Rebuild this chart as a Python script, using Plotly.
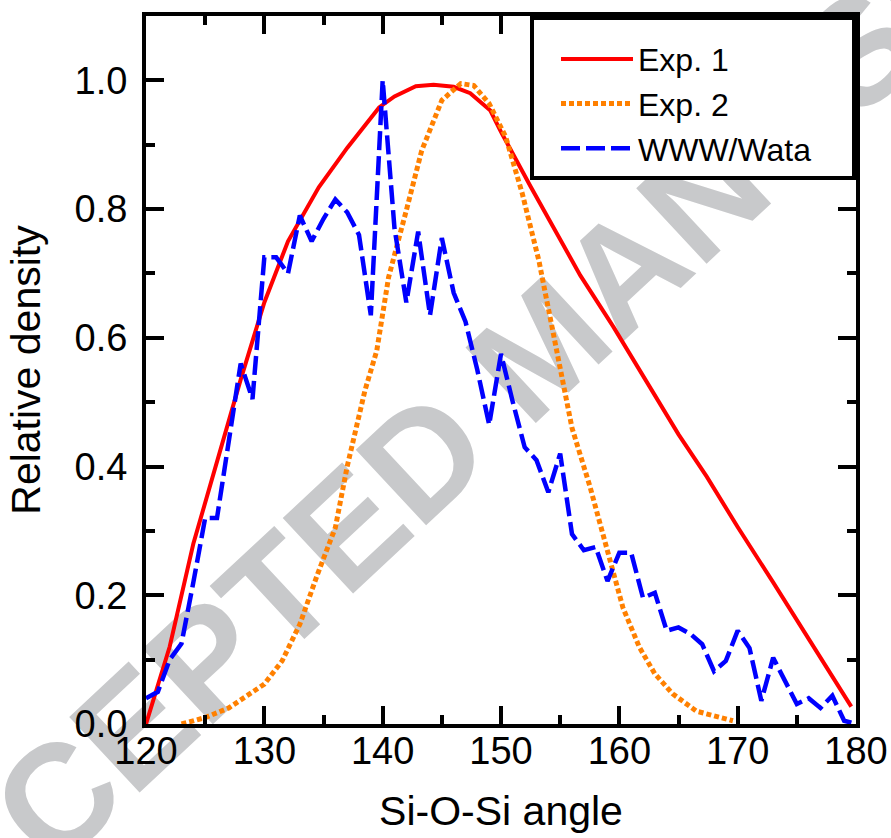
import plotly.graph_objects as go

# Exp. 1 (red, solid)
exp1_angle = [120, 122, 124, 126, 128, 130, 132, 134.6, 137, 139.7, 141, 142.8, 144.3, 146, 147.4, 149.1,
              150, 152.5, 156.7, 159.5, 162.3, 165, 167.4, 170, 173, 176, 179.6]
exp1_density = [0.0, 0.12, 0.28, 0.41, 0.535, 0.655, 0.75, 0.834, 0.895, 0.958, 0.975, 0.991, 0.993, 0.99, 0.98, 0.953,
                0.92, 0.835, 0.697, 0.617, 0.532, 0.45, 0.384, 0.306, 0.22, 0.132, 0.027]

# Exp. 2 (orange, dotted)
exp2_angle = [123, 125, 127, 130, 131.5, 133, 134.5, 136, 137, 138.5, 139.5, 140.5, 142, 143.3, 145, 146.6, 147.7,
              149, 150.4, 151.8, 153.2, 154.6, 156, 157.5, 158.9, 160.3, 161.7, 163, 164.5, 166.5, 169.6]
exp2_density = [0.0, 0.01, 0.025, 0.062, 0.098, 0.155, 0.233, 0.305, 0.40, 0.518, 0.58, 0.694, 0.798, 0.891, 0.969,
                0.995, 0.992, 0.964, 0.912, 0.824, 0.72, 0.59, 0.46, 0.37, 0.274, 0.181, 0.119, 0.078, 0.047, 0.02, 0.005]

# WWW/Wata model (blue, dashed), one point per degree
www_angle = list(range(120, 181))
www_density = [0.04, 0.05, 0.10, 0.125, 0.22, 0.32, 0.32, 0.44, 0.56, 0.505,
               0.725, 0.725, 0.70, 0.79, 0.75, 0.785, 0.815, 0.795, 0.76, 0.635,
               1.0, 0.77, 0.655, 0.765, 0.635, 0.755, 0.67, 0.625, 0.55, 0.465,
               0.575, 0.50, 0.43, 0.41, 0.36, 0.42, 0.295, 0.27, 0.275, 0.222,
               0.266, 0.266, 0.196, 0.204, 0.145, 0.15, 0.14, 0.124, 0.082, 0.098,
               0.145, 0.118, 0.036, 0.103, 0.065, 0.031, 0.04, 0.025, 0.044, 0.005,
               0.0]

x_ticks = [120, 130, 140, 150, 160, 170, 180]
y_ticks = [0.0, 0.2, 0.4, 0.6, 0.8, 1.0]
y_tick_labels = ["0.0", "0.2", "0.4", "0.6", "0.8", "1.0"]

FONT = "Liberation Sans, Arial, sans-serif"
PAD = "\u00a0" * 4  # right padding inside the legend box

fig = go.Figure()
fig.add_trace(go.Scatter(x=exp1_angle, y=exp1_density, mode="lines", name="Exp. 1",
                         line=dict(color="#ff0000", width=4)))
fig.add_trace(go.Scatter(x=exp2_angle, y=exp2_density, mode="lines", name="Exp. 2",
                         line=dict(color="#ff8000", width=5, dash="5px,3px")))
fig.add_trace(go.Scatter(x=www_angle, y=www_density, mode="lines", name="WWW/Wata" + PAD,
                         line=dict(color="#0000ff", width=4.5, dash="19px,6px")))

# watermark, kept under the curves
fig.add_shape(type="rect", xref="paper", yref="paper", x0=0.536, x1=0.552, y0=0.541, y1=0.555,
              line=dict(width=0), fillcolor="rgba(0,0,0,0)", layer="below",
              label=dict(text="ACCEPTED MANUSCRIPT", textangle=-43, textposition="middle center",
                         font=dict(family=FONT, size=150, color="#c8c9cb", weight="bold")))

axis_common = dict(
    showline=True, linewidth=4, linecolor="black", mirror="allticks",
    ticks="inside", ticklen=18, tickwidth=3.5, tickcolor="black",
    showgrid=False, zeroline=False, automargin=False,
    tickfont=dict(family=FONT, size=38, color="black"),
)

fig.update_xaxes(range=[120, 180], tickvals=x_ticks,
                 minor=dict(ticks="inside", ticklen=9, tickwidth=3.5, tickcolor="black", dtick=5, tick0=120),
                 title=dict(text="Si-O-Si angle", font=dict(family=FONT, size=41, color="black"), standoff=27),
                 ticklabelstandoff=-10,
                 **axis_common)
fig.update_yaxes(range=[0, 1.1], tickvals=y_ticks, ticktext=y_tick_labels,
                 minor=dict(ticks="inside", ticklen=9, tickwidth=3.5, tickcolor="black", dtick=0.1, tick0=0),
                 title=dict(text="Relative density", font=dict(family=FONT, size=41, color="black"), standoff=22),
                 ticklabelstandoff=7,
                 **axis_common)

fig.update_layout(
    width=891, height=838,
    margin=dict(l=146, r=35, t=16, b=114),
    paper_bgcolor="white", plot_bgcolor="rgba(0,0,0,0)",
    showlegend=True,
    legend=dict(x=1, y=1, xanchor="right", yanchor="top",
                bgcolor="white", bordercolor="black", borderwidth=4,
                font=dict(family=FONT, size=32, color="black"),
                title=dict(text="\u00a0", font=dict(size=9)),
                indentation=22, itemwidth=72),
)

# page body margin would shift the figure; remove it
fig.write_html("out.html", config={"displayModeBar": False},
               post_script="document.body.style.margin='0';")
